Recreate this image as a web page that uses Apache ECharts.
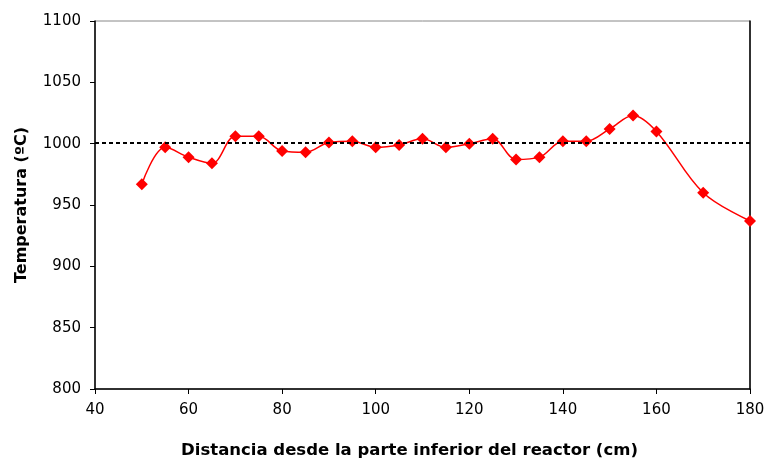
<!DOCTYPE html>
<html>
<head>
<meta charset="utf-8">
<script src="https://cdn.jsdelivr.net/npm/echarts@6/dist/echarts.min.js"></script>
<style>
  html, body { margin: 0; padding: 0; background: #fff; }
  #chart { width: 766px; height: 458px; }
</style>
</head>
<body>
<div id="chart"></div>
<script>
// distancia (cm) y temperatura (ºC)
var distancias = [50, 55, 60, 65, 70, 75, 80, 85, 90, 95, 100, 105, 110, 115, 120, 125, 130, 135, 140, 145, 150, 155, 160, 170, 180];
var temperaturas = [967, 997, 989, 984, 1006, 1006, 994, 993, 1001, 1002, 997, 999, 1004, 997, 1000, 1004, 987, 989, 1002, 1002, 1012, 1023, 1010, 960, 937];
var referencia = 1001; // linea punteada
var xMin = 40, xMax = 180, xPaso = 20;
var yMin = 800, yMax = 1100, yPaso = 50;

var puntos = [];
for (var i = 0; i < distancias.length; i++) {
  puntos.push([distancias[i], temperaturas[i]]);
}

var fuente = '"DejaVu Sans", sans-serif';
var chart = echarts.init(document.getElementById('chart'));

chart.setOption({
  animation: false,
  grid: {
    left: 95,
    right: 16,
    top: 21,
    bottom: 69,
    outerBoundsMode: 'none',
    show: true,
    borderColor: '#888888',
    borderWidth: 1
  },
  xAxis: {
    type: 'value',
    min: xMin,
    max: xMax,
    interval: xPaso,
    name: 'Distancia desde la parte inferior del reactor (cm)',
    nameLocation: 'middle',
    nameGap: 53,
    nameTextStyle: { fontFamily: fuente, fontSize: 16.5, fontWeight: 'bold', color: '#000', padding: [0, 26, 0, 0] },
    axisLine: { show: true, onZero: false, lineStyle: { color: '#000', width: 1.5 } },
    axisTick: { show: true, length: 5, lineStyle: { color: '#000' } },
    axisLabel: { fontFamily: fuente, fontSize: 15, color: '#000', margin: 14 },
    splitLine: { show: false }
  },
  yAxis: [{
    type: 'value',
    min: yMin,
    max: yMax,
    interval: yPaso,
    name: 'Temperatura (ºC)',
    nameLocation: 'middle',
    nameGap: 65,
    nameTextStyle: { fontFamily: fuente, fontSize: 16, fontWeight: 'bold', color: '#000' },
    axisLine: { show: true, lineStyle: { color: '#000', width: 1.5 } },
    axisTick: { show: true, length: 5, lineStyle: { color: '#000' } },
    axisLabel: { fontFamily: fuente, fontSize: 15, color: '#000', margin: 14, formatter: function (v) { return String(v); } },
    splitLine: { show: false }
  }, {
    type: 'value',
    position: 'right',
    min: yMin,
    max: yMax,
    axisLine: { show: true, lineStyle: { color: '#000', width: 1.5 } },
    axisTick: { show: false },
    axisLabel: { show: false },
    splitLine: { show: false }
  }],
  series: [{
    type: 'line',
    data: puntos,
    smooth: 0.35,
    symbol: 'diamond',
    symbolSize: 12,
    itemStyle: { color: '#ff0000' },
    lineStyle: { color: '#ff0000', width: 1.5 },
    markLine: {
      silent: true,
      symbol: 'none',
      label: { show: false },
      lineStyle: { color: '#000', type: [4, 3], width: 2 },
      data: [{ yAxis: referencia }]
    }
  }]
});
</script>
</body>
</html>
